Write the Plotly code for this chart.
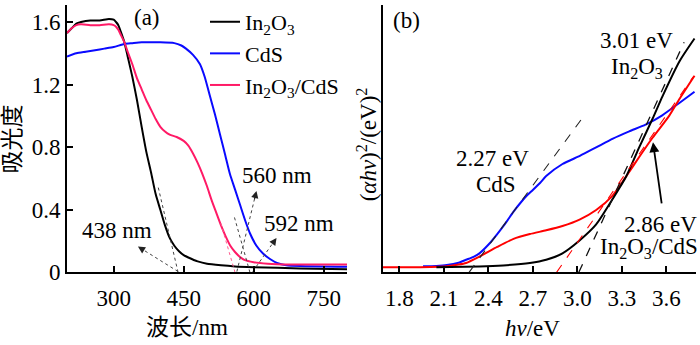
import plotly.graph_objects as go

W, H = 700, 345

# ---------------- (a) UV-vis absorbance ----------------
wl_in2o3 = [200, 210, 220, 230, 250, 270, 290, 300, 305, 310, 315, 323, 330, 340, 350, 360,
            370, 380, 390, 400, 410, 420, 430, 440, 450, 460, 480, 500, 530, 560, 600, 700, 800]
abs_in2o3 = [1.53, 1.56, 1.59, 1.60, 1.61, 1.61, 1.62, 1.615, 1.60, 1.58, 1.54, 1.47, 1.38, 1.25,
             1.10, 0.93, 0.77, 0.64, 0.50, 0.40, 0.30, 0.22, 0.17, 0.135, 0.11, 0.095, 0.07,
             0.055, 0.045, 0.038, 0.033, 0.025, 0.02]

wl_cds = [200, 220, 240, 260, 280, 300, 323, 340, 360, 400, 430, 445, 455, 470, 485, 495, 506,
          517, 528, 539, 549, 560, 571, 582, 592, 606, 620, 635, 650, 670, 700, 800]
abs_cds = [1.38, 1.40, 1.41, 1.42, 1.43, 1.44, 1.46, 1.465, 1.47, 1.47, 1.465, 1.45, 1.43, 1.39,
           1.33, 1.25, 1.13, 1.01, 0.88, 0.75, 0.63, 0.53, 0.43, 0.33, 0.25, 0.17, 0.12, 0.085,
           0.06, 0.045, 0.04, 0.035]

wl_comp = [200, 210, 220, 230, 250, 270, 290, 300, 305, 310, 315, 323, 330, 340, 350, 360, 370,
           380, 390, 400, 410, 420, 435, 450, 460, 470, 480, 490, 500, 510, 520, 530, 540, 550,
           560, 570, 580, 600, 630, 680, 750, 800]
abs_comp = [1.53, 1.56, 1.58, 1.585, 1.58, 1.58, 1.585, 1.58, 1.57, 1.55, 1.52, 1.47, 1.41, 1.33,
            1.24, 1.17, 1.10, 1.04, 0.98, 0.93, 0.90, 0.88, 0.865, 0.84, 0.81, 0.76, 0.70, 0.63,
            0.55, 0.46, 0.38, 0.30, 0.23, 0.17, 0.13, 0.10, 0.08, 0.065, 0.055, 0.05, 0.05, 0.05]

# absorption edges (nm)
edge_in2o3 = 438
edge_comp = 560
edge_cds = 592

# ---------------- (b) Tauc plot ----------------
ev_in2o3 = [2.05, 2.34, 2.50, 2.68, 2.79, 2.90, 3.015, 3.127, 3.238, 3.33, 3.417, 3.507, 3.574,
            3.69, 3.79]
tauc_in2o3 = [0.019, 0.022, 0.026, 0.035, 0.047, 0.071, 0.119, 0.179, 0.274, 0.359, 0.467,
              0.574, 0.658, 0.79, 0.874]

ev_cds = [1.96, 2.05, 2.12, 2.20, 2.25, 2.30, 2.34, 2.40, 2.46, 2.52, 2.57, 2.62, 2.66, 2.70,
          2.75, 2.79, 2.90, 3.02, 3.13, 3.24, 3.35, 3.46, 3.57, 3.69, 3.79]
tauc_cds = [0.023, 0.024, 0.027, 0.036, 0.047, 0.058, 0.071, 0.103, 0.143, 0.187, 0.227, 0.262,
            0.287, 0.308, 0.335, 0.360, 0.405, 0.436, 0.468, 0.500, 0.527, 0.552, 0.586, 0.634,
            0.675]

ev_comp = [1.69, 1.90, 2.12, 2.20, 2.25, 2.34, 2.46, 2.57, 2.68, 2.79, 2.90, 3.015, 3.127, 3.238,
           3.33, 3.417, 3.507, 3.62, 3.686, 3.79]
tauc_comp = [0.019, 0.019, 0.023, 0.029, 0.035, 0.059, 0.095, 0.125, 0.143, 0.157, 0.173, 0.197,
             0.233, 0.287, 0.359, 0.431, 0.503, 0.586, 0.646, 0.735]

gap_cds = 2.27
gap_in2o3 = 3.01
gap_comp = 2.86

# tangent end points (x, y) used for the band-gap extrapolation lines
tan_cds_end = (3.03, 0.574)
tan_in2o3_end = (3.72, 0.86)
tan_comp_end = (3.78, 0.73)

BLACK = "#000000"
BLUE = "#0a0aff"
PINK = "#ff1a66"
RED = "#ff0000"

SERIF = "Liberation Serif, Times New Roman, serif"
CJK = "Liberation Serif, Noto Sans CJK SC, serif"
FS = 23

fig = go.Figure()

# (a) spectra
fig.add_trace(go.Scatter(x=wl_in2o3, y=abs_in2o3, mode="lines", name="In<sub>2</sub>O<sub>3</sub>",
                         line=dict(color=BLACK, width=2, shape="spline", smoothing=0.6),
                         xaxis="x", yaxis="y"))
fig.add_trace(go.Scatter(x=wl_cds, y=abs_cds, mode="lines", name="CdS",
                         line=dict(color=BLUE, width=2, shape="spline", smoothing=0.6),
                         xaxis="x", yaxis="y"))
fig.add_trace(go.Scatter(x=wl_comp, y=abs_comp, mode="lines",
                         name="In<sub>2</sub>O<sub>3</sub>/CdS",
                         line=dict(color=PINK, width=2, shape="spline", smoothing=0.6),
                         xaxis="x", yaxis="y"))


def guide(xs, ys, color, xa="x", ya="y", dash="dot", width=1):
    fig.add_trace(go.Scatter(x=xs, y=ys, mode="lines", showlegend=False, hoverinfo="skip",
                             line=dict(color=color, width=width, dash=dash),
                             xaxis=xa, yaxis=ya))


# (a) edge extrapolation (dotted)
guide([edge_in2o3, 395], [0, 0.55], "#444444")
guide([edge_comp, 528], [0, 0.33], "#ff5c8f")
guide([edge_cds, 558], [0, 0.36], "#444444")

# (a) dotted arrows from each edge to its label
arrows_a = [
    (edge_in2o3, 0.005, 352, 0.165),
    (edge_comp + 4, 0.005, 606, 0.52),
    (edge_cds + 6, 0.005, 649, 0.22),
]
for x0, y0, x1, y1 in arrows_a:
    guide([x0, x1], [y0, y1], "#444444")
    dx, dy = (x1 - x0), (y1 - y0)
    fig.add_annotation(x=x1, y=y1, ax=x1 - dx * 0.12, ay=y1 - dy * 0.12, xref="x", yref="y",
                       axref="x", ayref="y", showarrow=True, arrowhead=2, arrowsize=1.2,
                       arrowwidth=1.2, arrowcolor="#222222", text="")

# (b) Tauc curves
fig.add_trace(go.Scatter(x=ev_cds, y=tauc_cds, mode="lines", showlegend=False,
                         line=dict(color=BLUE, width=2, shape="spline", smoothing=0.6),
                         xaxis="x2", yaxis="y2"))
fig.add_trace(go.Scatter(x=ev_comp, y=tauc_comp, mode="lines", showlegend=False,
                         line=dict(color=RED, width=2, shape="spline", smoothing=0.6),
                         xaxis="x2", yaxis="y2"))
fig.add_trace(go.Scatter(x=ev_in2o3, y=tauc_in2o3, mode="lines", showlegend=False,
                         line=dict(color=BLACK, width=2, shape="spline", smoothing=0.6),
                         xaxis="x2", yaxis="y2"))

guide([gap_cds, tan_cds_end[0]], [0, tan_cds_end[1]], "#222222", "x2", "y2", "dash", 1.1)
guide([gap_in2o3, tan_in2o3_end[0]], [0, tan_in2o3_end[1]], "#111111", "x2", "y2", "dash", 1.3)
guide([gap_comp, tan_comp_end[0]], [0, tan_comp_end[1]], RED, "x2", "y2", "dash", 1.1)

fig.add_annotation(x=3.51, y=0.486, ax=3.57, ay=0.252, xref="x2", yref="y2", axref="x2",
                   ayref="y2", showarrow=True, arrowhead=2, arrowsize=1.1, arrowwidth=1.8,
                   arrowcolor=BLACK, text="")


# text labels
def label(text, x, y, xref, yref, size=FS, angle=0, family=SERIF):
    fig.add_annotation(x=x, y=y, xref=xref, yref=yref, text=text, showarrow=False,
                       textangle=angle, font=dict(family=family, size=size, color=BLACK),
                       xanchor="center", yanchor="middle")


label("(a)", 371, 1.63, "x", "y")
label("438 nm", 308, 0.27, "x", "y")
label("560 nm", 649, 0.62, "x", "y")
label("592 nm", 697, 0.31, "x", "y")

label("(b)", 1.85, 0.94, "x2", "y2")
label("3.01 eV", 3.40, 0.865, "x2", "y2")
label("In<sub>2</sub>O<sub>3</sub>", 3.40, 0.765, "x2", "y2")
label("2.27 eV", 2.43, 0.425, "x2", "y2")
label("CdS", 2.45, 0.33, "x2", "y2")
label("2.86 eV", 3.56, 0.178, "x2", "y2")
label("In<sub>2</sub>O<sub>3</sub>/CdS", 3.48, 0.09, "x2", "y2")


# axis titles
def px(x):
    return x / W


def py(y):
    return 1 - y / H


label("吸光度", px(13), py(145), "paper", "paper", size=23, angle=-90, family=CJK)
label("波长/nm", px(187), py(340), "paper", "paper", size=23, family=CJK)
label("(<i>αhν</i>)<sup>2</sup>/(eV)<sup>2</sup>", px(367), py(150), "paper", "paper", angle=-90)
label("<i>hν</i>/eV", px(532), py(341), "paper", "paper")

axis_common = dict(showline=True, linecolor=BLACK, linewidth=2, ticks="inside", ticklen=6,
                   tickwidth=2, tickcolor=BLACK, showgrid=False, zeroline=False,
                   tickfont=dict(family=SERIF, size=FS, color=BLACK))

fig.update_layout(
    width=W, height=H, margin=dict(l=0, r=0, t=0, b=0),
    paper_bgcolor="white", plot_bgcolor="white",
    xaxis=dict(domain=[px(67), px(347)], range=[200, 800], anchor="y",
               tickvals=[300, 450, 600, 750], ticklabelstandoff=4, **axis_common),
    yaxis=dict(domain=[py(283), py(5)], range=[0, 1.71], anchor="x",
               tickvals=[0, 0.4, 0.8, 1.2, 1.6], ticktext=["0", "0.4", "0.8", "1.2", "1.6"],
               **axis_common),
    xaxis2=dict(domain=[px(383), px(696)], range=[1.69, 3.80], anchor="y2",
                tickvals=[1.8, 2.1, 2.4, 2.7, 3.0, 3.3, 3.6],
                ticktext=["1.8", "2.1", "2.4", "2.7", "3.0", "3.3", "3.6"],
                ticklabelstandoff=4, **axis_common),
    yaxis2=dict(domain=[py(283), py(5)], range=[0, 1.0], anchor="x2", showline=True,
                linecolor=BLACK, linewidth=2, ticks="", showticklabels=False, showgrid=False,
                zeroline=False),
    showlegend=True,
    legend=dict(x=px(205), y=py(1), xanchor="left", yanchor="top", bgcolor="rgba(0,0,0,0)",
                font=dict(family=SERIF, size=22, color=BLACK), tracegroupgap=0,
                itemwidth=30),
)

fig.write_html("out.html")
